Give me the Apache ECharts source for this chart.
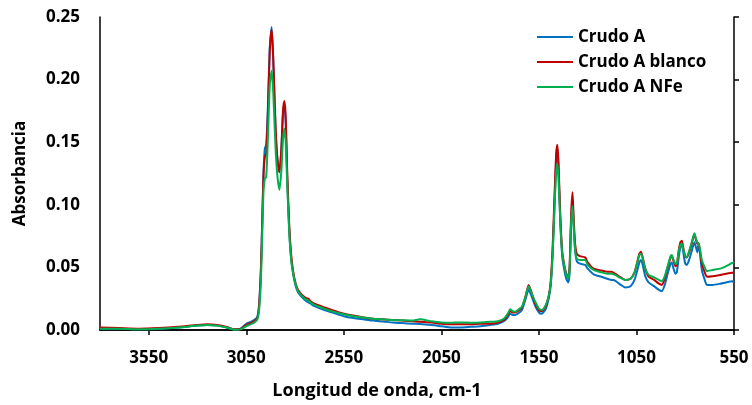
<!DOCTYPE html>
<html>
<head>
<meta charset="utf-8">
<script src="https://cdn.jsdelivr.net/npm/echarts@6/dist/echarts.min.js"></script>
<style>html,body{margin:0;padding:0;background:#fff}#c{width:752px;height:405px}</style>
</head>
<body>
<div id="c"></div>
<script>
const wavenumbers = [3800,3700,3600,3500,3400,3300,3250,3200,3150,3110,3080,3050,3020,2995,2985,2975,2968,2962,2955,2948,2940,2930,2920,2912,2900,2890,2880,2870,2862,2855,2848,2840,2830,2820,2810,2800,2785,2770,2750,2732,2720,2700,2650,2600,2550,2500,2450,2400,2350,2300,2250,2200,2160,2100,2050,2000,1950,1900,1850,1800,1760,1730,1710,1697,1685,1672,1650,1637,1620,1603,1590,1569,1550,1535,1515,1500,1490,1480,1470,1462,1456,1450,1440,1430,1420,1410,1400,1393,1385,1378,1372,1365,1356,1340,1313,1300,1270,1230,1200,1176,1160,1130,1108,1080,1060,1045,1035,1027,1018,1005,988,960,935,920,905,890,875,869,860,850,843,835,825,817,808,800,792,780,765,753,745,738,732,725,715,700,689,660,620,590,560,550];

const crudoA = [0.001,0.001,0.0005,0.001,0.002,0.0035,0.004,0.0035,0.002,0.0003,0.001,0.005,0.007,0.010,0.020,0.050,0.090,0.125,0.145,0.148,0.175,0.225,0.242,0.215,0.160,0.135,0.126,0.145,0.172,0.181,0.165,0.120,0.080,0.057,0.045,0.037,0.030,0.027,0.024,0.022,0.021,0.019,0.016,0.0135,0.011,0.0095,0.0085,0.0075,0.0068,0.006,0.0055,0.005,0.0048,0.004,0.003,0.002,0.002,0.0025,0.003,0.004,0.005,0.007,0.010,0.013,0.012,0.012,0.014,0.016,0.024,0.032,0.028,0.019,0.014,0.013,0.017,0.025,0.035,0.060,0.100,0.135,0.146,0.130,0.085,0.058,0.048,0.041,0.038,0.045,0.085,0.106,0.085,0.065,0.055,0.053,0.052,0.049,0.0445,0.0425,0.041,0.040,0.0395,0.036,0.034,0.035,0.040,0.048,0.054,0.056,0.052,0.043,0.038,0.035,0.032,0.031,0.036,0.045,0.053,0.054,0.049,0.045,0.046,0.056,0.066,0.068,0.060,0.053,0.052,0.056,0.064,0.070,0.066,0.062,0.069,0.062,0.048,0.040,0.036,0.036,0.037,0.038,0.039,0.038];

const crudoABlanco = [0.002,0.0015,0.001,0.0015,0.0025,0.004,0.0045,0.004,0.0025,0.0005,0.0008,0.004,0.006,0.009,0.018,0.048,0.088,0.123,0.138,0.141,0.170,0.222,0.240,0.218,0.162,0.136,0.126,0.146,0.175,0.183,0.170,0.125,0.084,0.060,0.047,0.039,0.032,0.029,0.026,0.025,0.023,0.021,0.018,0.0155,0.013,0.0115,0.010,0.009,0.0085,0.008,0.0075,0.007,0.0065,0.006,0.005,0.0045,0.0045,0.0045,0.005,0.005,0.006,0.008,0.012,0.015,0.014,0.014,0.016,0.018,0.026,0.036,0.031,0.021,0.016,0.015,0.019,0.027,0.038,0.065,0.108,0.140,0.148,0.135,0.090,0.062,0.052,0.045,0.042,0.050,0.092,0.110,0.090,0.070,0.061,0.059,0.058,0.054,0.049,0.0475,0.0465,0.0465,0.045,0.042,0.040,0.041,0.046,0.055,0.061,0.0625,0.058,0.049,0.0426,0.040,0.037,0.036,0.041,0.050,0.058,0.059,0.055,0.051,0.052,0.062,0.070,0.0713,0.064,0.059,0.058,0.062,0.070,0.0767,0.072,0.069,0.0695,0.064,0.053,0.046,0.0426,0.043,0.044,0.045,0.0458,0.046];

const crudoANFe = [0.001,0.001,0.0005,0.001,0.002,0.0035,0.004,0.0035,0.002,0.0002,0.0005,0.003,0.005,0.008,0.015,0.040,0.078,0.110,0.121,0.122,0.150,0.195,0.207,0.190,0.145,0.122,0.112,0.128,0.152,0.161,0.150,0.115,0.078,0.056,0.045,0.038,0.031,0.028,0.025,0.0235,0.022,0.020,0.017,0.0145,0.0125,0.011,0.010,0.009,0.0085,0.008,0.0078,0.0075,0.0085,0.007,0.006,0.0058,0.006,0.0058,0.006,0.0065,0.007,0.009,0.013,0.0165,0.015,0.0146,0.017,0.0186,0.026,0.035,0.030,0.0226,0.017,0.016,0.020,0.027,0.036,0.060,0.098,0.125,0.133,0.122,0.085,0.060,0.051,0.044,0.041,0.048,0.085,0.099,0.083,0.065,0.057,0.056,0.056,0.052,0.048,0.046,0.045,0.045,0.044,0.0415,0.040,0.041,0.046,0.054,0.060,0.061,0.057,0.049,0.044,0.042,0.040,0.039,0.043,0.051,0.059,0.060,0.056,0.053,0.053,0.061,0.068,0.069,0.063,0.059,0.058,0.063,0.071,0.0772,0.073,0.070,0.069,0.065,0.056,0.050,0.047,0.048,0.049,0.051,0.0535,0.054];

const seriesNames = ['Crudo A','Crudo A blanco','Crudo A NFe'];
const xTickLabels = [3550,3050,2550,2050,1550,1050,550];
const yTickLabels = [0,0.05,0.10,0.15,0.20,0.25];

const FONT = 'Open Sans';
const pairs = vals => wavenumbers.map((w,i)=>[w, vals[i]]);
const colors = ['#0070C0','#C00000','#00B050'];
const allVals = [crudoA, crudoABlanco, crudoANFe];

const chart = echarts.init(document.getElementById('c'), null, {renderer:'canvas'});
chart.setOption({
  animation:false,
  backgroundColor:'#fff',
  grid:{left:100, right:18, top:17, bottom:75, containLabel:false, outerBoundsMode:'none'},
  legend:{
    orient:'vertical', left:532, top:21, itemWidth:36, itemHeight:2, itemGap:3,
    icon:'rect',
    textStyle:{fontFamily:FONT, fontWeight:'bold', fontSize:17, color:'#000', lineHeight:22},
    data: seriesNames
  },
  xAxis:[{
    type:'value', min:550, max:3800, inverse:true,
    axisLine:{show:true, onZero:false, lineStyle:{color:'#000', width:1.5}},
    axisTick:{show:true, inside:false, length:5, customValues:xTickLabels, lineStyle:{color:'#000', width:1.5}},
    axisLabel:{customValues:xTickLabels, fontFamily:FONT, fontWeight:'bold', fontSize:17, color:'#000', margin:20, formatter:v=>String(v)},
    splitLine:{show:false}
  },{
    type:'value', min:550, max:3800, inverse:true, position:'top',
    axisLine:{show:true, lineStyle:{color:'#000', width:1.5}},
    axisTick:{show:false}, axisLabel:{show:false}, splitLine:{show:false}
  }],
  yAxis:[{
    type:'value', min:0, max:0.25, interval:0.05,
    name:'Absorbancia', nameLocation:'middle', nameGap:71,
    nameTextStyle:{fontFamily:FONT, fontWeight:'bold', fontSize:17, color:'#000'},
    axisLine:{show:true, lineStyle:{color:'#000', width:1.5}},
    axisTick:{show:false},
    axisLabel:{fontFamily:FONT, fontWeight:'bold', fontSize:17, color:'#000', margin:20, formatter:v=>v.toFixed(2)},
    splitLine:{show:false}
  },{
    type:'value', min:0, max:0.25, interval:0.05, position:'right',
    axisLine:{show:true, lineStyle:{color:'#000', width:1.5}},
    axisTick:{show:true, inside:false, length:5, lineStyle:{color:'#000', width:1.5}},
    axisLabel:{show:false}, splitLine:{show:false}
  }],
  graphic:[{
    type:'text', x:377, y:391,
    style:{text:'Longitud de onda, cm-1', fontFamily:FONT, fontWeight:'bold', fontSize:18, fill:'#000', align:'center', verticalAlign:'middle'}
  }],
  series: allVals.map((v,i)=>({
    name:seriesNames[i], type:'line', data:pairs(v), showSymbol:false, symbol:'none',
    smooth:0.2, lineStyle:{color:colors[i], width:2}, itemStyle:{color:colors[i]}
  }))
});
</script>
</body>
</html>
